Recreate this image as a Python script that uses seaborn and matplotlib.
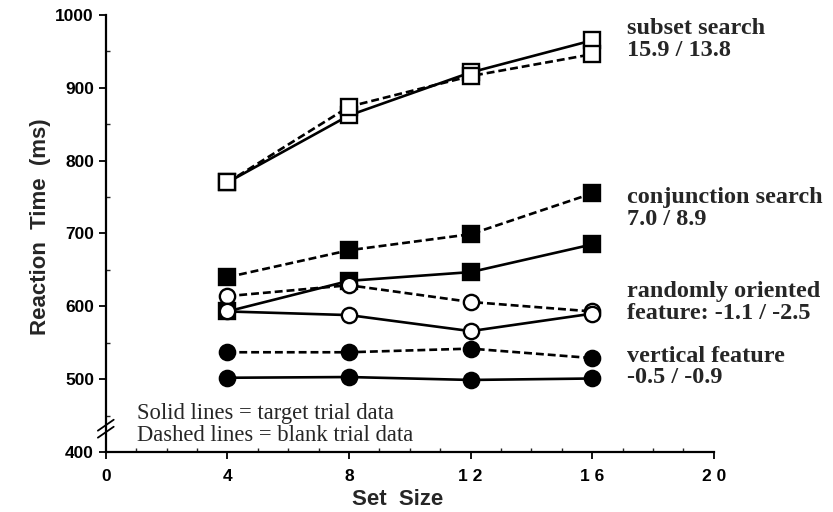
import matplotlib
matplotlib.use("Agg")
import matplotlib.pyplot as plt
import seaborn as sns
import pandas as pd
import numpy as np
from matplotlib.ticker import MultipleLocator

sns.set_theme(style="ticks")
plt.rcParams['font.family'] = ['Liberation Sans', 'DejaVu Sans']

set_sizes = [4, 8, 12, 16]
subset_target = [770, 862, 921, 965]
subset_blank = [770, 874, 916, 946]
conj_target = [593, 635, 647, 685]
conj_blank = [640, 677, 699, 755]
random_target = [593, 588, 566, 590]
random_blank = [614, 629, 606, 593]
vertical_target = [502, 503, 499, 501]
vertical_blank = [537, 537, 542, 529]

labels = ["subset search\n15.9 / 13.8", "conjunction search\n7.0 / 8.9",
          "randomly oriented\nfeature: -1.1 / -2.5", "vertical feature\n-0.5 / -0.9"]
label_tops = [995, 764, 635, 546]

series = [
    ("subset", "target", subset_target, "s", "white"),
    ("subset", "blank", subset_blank, "s", "white"),
    ("conj", "blank", conj_blank, "s", "black"),
    ("conj", "target", conj_target, "s", "black"),
    ("random", "blank", random_blank, "o", "white"),
    ("random", "target", random_target, "o", "white"),
    ("vertical", "blank", vertical_blank, "o", "black"),
    ("vertical", "target", vertical_target, "o", "black"),
]

fig = plt.figure(figsize=(8.33, 5.12), dpi=100)
ax = fig.add_axes([0.127, 0.117, 0.730, 0.854])

for name, trial, vals, mk, fc in series:
    df = pd.DataFrame({"Set Size": set_sizes, "RT": vals})
    ls = "-" if trial == "target" else (0, (3, 1.5))
    ms = 11.5 if mk == "s" else 11
    sns.lineplot(data=df, x="Set Size", y="RT", ax=ax, color="black",
                 linewidth=1.9, linestyle=ls, marker=mk, markersize=ms,
                 markerfacecolor=fc, markeredgecolor="black", markeredgewidth=1.7,
                 zorder=3 if fc == "white" else 2, clip_on=False)

ax.set_xlim(0, 20)
ax.set_ylim(400, 1000)
ax.set_xticks([0, 4, 8, 12, 16, 20])
ax.set_xticklabels(["0", "4", "8", "1 2", "1 6", "2 0"])
ax.set_yticks([400, 500, 600, 700, 800, 900, 1000])
ax.xaxis.set_minor_locator(MultipleLocator(1))
ax.yaxis.set_minor_locator(MultipleLocator(50))
ax.tick_params(axis="both", which="major", direction="out", length=5, width=1.3,
               labelsize=12.5, colors="black")
ax.tick_params(axis="x", which="major", pad=7)
ax.tick_params(axis="both", which="minor", direction="in", length=3, width=1.0)
for lab in ax.get_xticklabels() + ax.get_yticklabels():
    lab.set_fontweight("bold")
for s in ["top", "right"]:
    ax.spines[s].set_visible(False)
for s in ["left", "bottom"]:
    ax.spines[s].set_linewidth(1.6)
    ax.spines[s].set_color("black")

ax.set_xlabel("Set  Size", fontsize=16, fontweight="bold")
ax.xaxis.set_label_coords(0.48, -0.085)
ax.set_ylabel("Reaction  Time  (ms)", fontsize=16, fontweight="bold")
ax.yaxis.set_label_coords(-0.09, 0.515)

# axis break mark
for dy in (0.0, 0.016):
    ax.plot([-0.013, 0.013], [0.033 + dy, 0.058 + dy], transform=ax.transAxes,
            color="black", lw=1.3, clip_on=False)

for txt, top in zip(labels, label_tops):
    ax.text(17.14, top, txt, fontsize=17.5, fontweight="bold", va="top", ha="left",
            family=["Liberation Serif"], linespacing=1.05, clip_on=False)

ax.text(1.03, 467, "Solid lines = target trial data\nDashed lines = blank trial data",
        fontsize=16.3, va="top", ha="left", family=["Liberation Serif"], linespacing=1.05)

ax.set_facecolor("white")
fig.patch.set_facecolor("white")
fig.savefig("out.png", dpi=100)
